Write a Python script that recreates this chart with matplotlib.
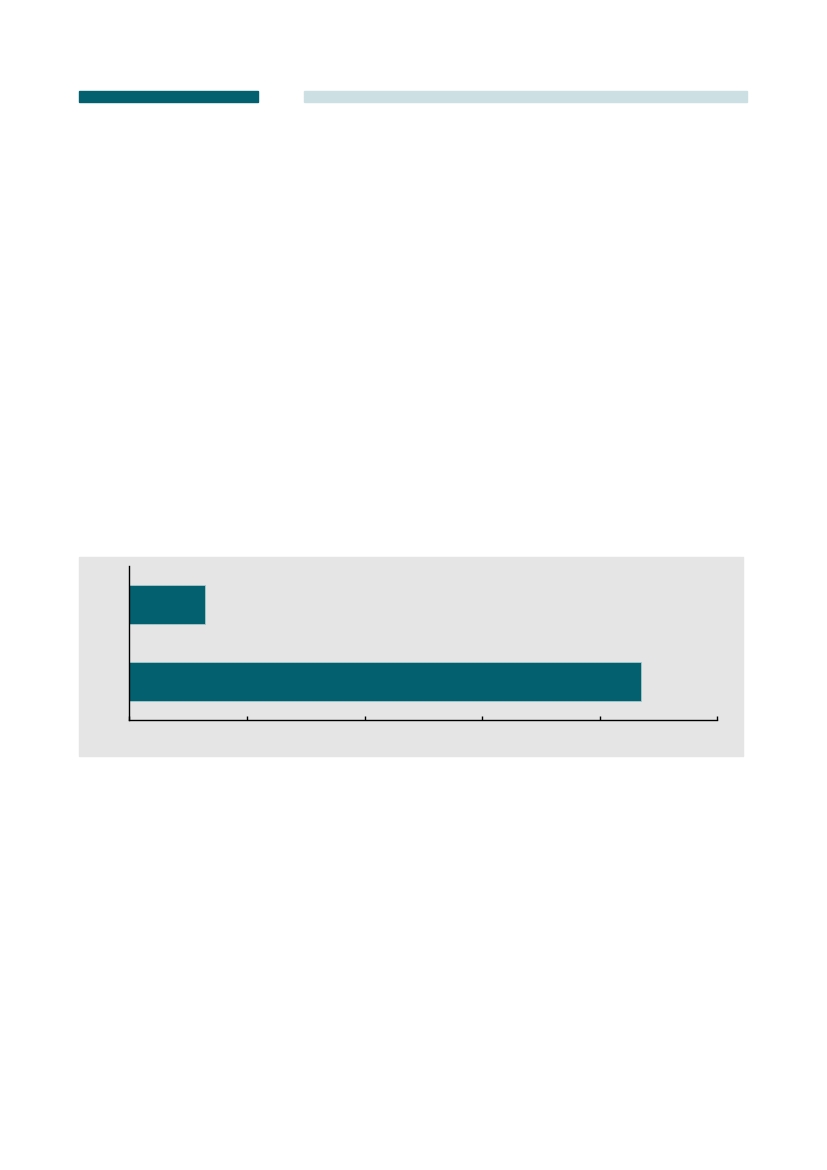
import matplotlib
matplotlib.use("Agg")
import matplotlib.pyplot as plt
from matplotlib.patches import Rectangle

# dados
categorias = ["A", "B"]  # de baixo para cima
valores = [43.5, 6.44]
ticks_x = [0, 10, 20, 30, 40, 50]

W, H = 827, 1170
fig = plt.figure(figsize=(W / 100, H / 100), dpi=100)
fig.patch.set_facecolor("white")

def px_rect(x0, y0, x1, y1):
    # converte pixels (origem em cima) para fracao da figura
    return (x0 / W, 1 - y1 / H, (x1 - x0) / W, (y1 - y0) / H)

# barras do cabecalho
x, y, w, h = px_rect(79, 91, 258, 102)
fig.patches.append(Rectangle((x, y), w, h, transform=fig.transFigure, color="#02606f", zorder=-1))
x, y, w, h = px_rect(304, 91, 747, 102)
fig.patches.append(Rectangle((x, y), w, h, transform=fig.transFigure, color="#cce0e4", zorder=-1))

# painel cinza
x, y, w, h = px_rect(79, 557, 743, 756)
fig.patches.append(Rectangle((x, y), w, h, transform=fig.transFigure, color="#e5e5e5", zorder=-1))

ax = fig.add_axes(px_rect(129.3, 566, 717.3, 720.3))
ax.set_zorder(2)
ax.patch.set_alpha(0)
ax.barh(range(len(valores)), valores, height=0.5, color="#02606f",
        edgecolor="#a9c9cd", linewidth=0.6)
ax.set_xlim(ticks_x[0], ticks_x[-1])
ax.set_ylim(-0.5, 1.5)
ax.set_xticks(ticks_x)
ax.set_xticklabels([])
ax.set_yticks([])
ax.tick_params(axis="x", direction="in", length=3, width=1, color="black")
for lado in ["top", "right"]:
    ax.spines[lado].set_visible(False)
for lado in ["left", "bottom"]:
    ax.spines[lado].set_linewidth(1.0)
    ax.spines[lado].set_color("black")

fig.savefig("out.png", dpi=100)
plt.close()
